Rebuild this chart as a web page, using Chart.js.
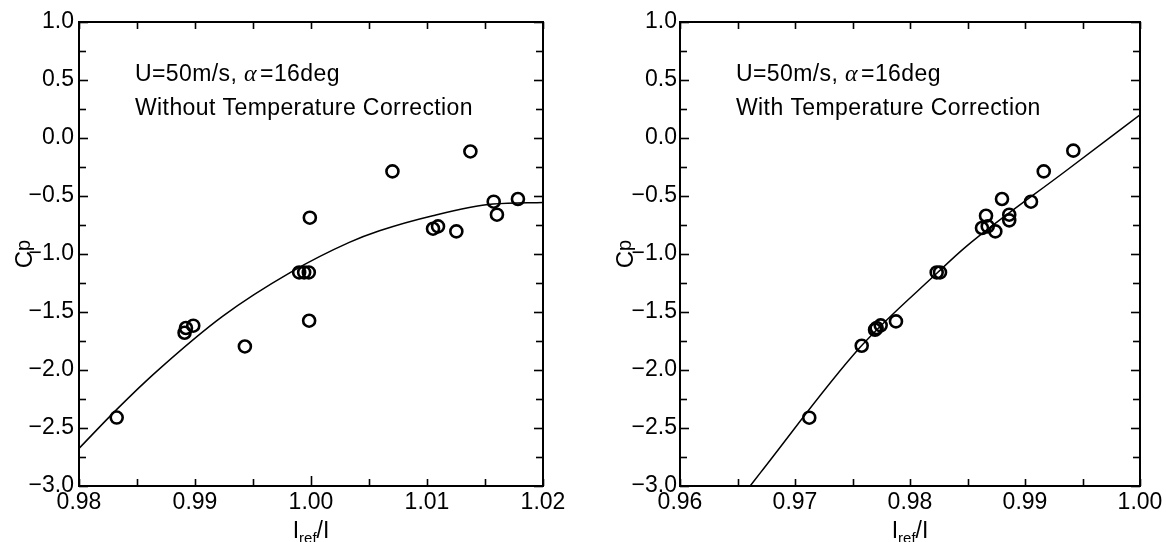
<!DOCTYPE html>
<html>
<head>
<meta charset="utf-8">
<script src="https://cdn.jsdelivr.net/npm/chart.js@4.4.0/dist/chart.umd.min.js"></script>
<style>
  html, body { margin: 0; padding: 0; background: #fff; }
  #wrap { position: relative; width: 1166px; height: 542px; }
  canvas { position: absolute; top: 0; }
</style>
</head>
<body>
<div id="wrap">
  <canvas id="left" width="583" height="542" style="left:0"></canvas>
  <canvas id="right" width="583" height="542" style="left:583px"></canvas>
</div>
<script>
// === Data ===
// left panel: without temperature correction
const leftX = [0.98325, 0.98922, 0.98985, 0.98910, 0.99430, 0.99898, 0.99941, 0.99981, 0.99984, 0.99990,
               1.00702, 1.01374, 1.01575, 1.01784, 1.01603, 1.01052, 1.01095, 1.01253];
const leftY = [-2.41, -1.638, -1.618, -1.679, -1.797, -1.159, -1.159, -1.159, -1.575, -0.687,
               -0.288, -0.116, -0.549, -0.526, -0.661, -0.782, -0.762, -0.805];
const leftFitX = [0.9800, 0.9833, 0.9866, 0.9924, 0.9982, 1.0033, 1.0059, 1.0105, 1.0157, 1.0200];
const leftFitY = [-2.676, -2.335, -2.02, -1.535, -1.16, -0.90, -0.80, -0.67, -0.57, -0.556];

// right panel: with temperature correction
const rightX = [0.97124, 0.97696, 0.97710, 0.97745, 0.97580, 0.97878, 0.98232, 0.98261, 0.98626,
                0.98676, 0.98742, 0.98661, 0.98863, 0.98863, 0.98800, 0.99052, 0.99163, 0.99420];
const rightY = [-2.411, -1.653, -1.638, -1.615, -1.791, -1.581, -1.159, -1.159, -0.776,
                -0.762, -0.805, -0.670, -0.661, -0.710, -0.526, -0.549, -0.288, -0.109];
const rightFitX = [0.9661, 0.9670, 0.9757, 0.9824, 0.9849, 0.9936, 1.0000];
const rightFitY = [-3.0, -2.885, -1.80, -1.16, -0.934, -0.28, 0.20];

const yTicksMin = -3, yTicksMax = 1, yStep = 0.5;

const FONT = '"Liberation Sans", Arial, sans-serif';

function pts(xs, ys) { return xs.map((x, i) => ({ x, y: ys[i] })); }

// frame, inward ticks, annotation and axis titles
const framePlugin = {
  id: 'frame',
  afterDraw(chart, args, opts) {
    const { ctx, chartArea: a } = chart;
    const xs = chart.scales.x, ys = chart.scales.y;
    ctx.save();
    ctx.strokeStyle = '#000';
    ctx.lineWidth = 2;
    ctx.strokeRect(a.left, a.top, a.right - a.left, a.bottom - a.top);

    ctx.lineWidth = 1.6;
    const line = (x1, y1, x2, y2) => { ctx.beginPath(); ctx.moveTo(x1, y1); ctx.lineTo(x2, y2); ctx.stroke(); };
    const xv = xs.ticks.map(t => t.value);
    const xall = [];
    xv.forEach((v, i) => { xall.push(v); if (i < xv.length - 1) xall.push((v + xv[i + 1]) / 2); });
    xall.forEach(v => {
      const px = Math.round(xs.getPixelForValue(v)) + 0.5;
      const len = (opts.longTick != null && Math.abs(v - opts.longTick) < 1e-9) ? 10 : 7;
      line(px, a.bottom, px, a.bottom - len);
      line(px, a.top, px, a.top + 7);
    });
    const yv = ys.ticks.map(t => t.value);
    yv.forEach((v, i) => {
      const py = Math.round(ys.getPixelForValue(v)) + 0.5;
      line(a.left, py, a.left + 9, py);
      line(a.right, py, a.right - 9, py);
      if (i < yv.length - 1) {
        const pm = Math.round(ys.getPixelForValue((v + yv[i + 1]) / 2)) + 0.5;
        line(a.left, pm, a.left + 7, pm);
        line(a.right, pm, a.right - 7, pm);
      }
    });

    // annotation text
    ctx.fillStyle = '#000';
    ctx.textBaseline = 'alphabetic';
    ctx.textAlign = 'left';
    ctx.letterSpacing = '0.4px';
    let tx = a.left + 56;
    ctx.font = '23px ' + FONT;
    ctx.fillText('U=50m/s, ', tx, 81);
    tx += ctx.measureText('U=50m/s, ').width;
    ctx.font = 'italic 24px "Liberation Serif", serif';
    ctx.fillText('\u03b1', tx, 81);
    tx += ctx.measureText('\u03b1').width + 3;
    ctx.font = '23px ' + FONT;
    ctx.fillText('=16deg', tx, 81);
    ctx.fillText(opts.note, a.left + 56, 114.5);
    ctx.letterSpacing = '0px';

    // y title "Cp"
    ctx.save();
    ctx.translate(a.left - 56, (a.top + a.bottom) / 2);
    ctx.rotate(-Math.PI / 2);
    ctx.font = '24px ' + FONT;
    const wC = ctx.measureText('C').width;
    ctx.font = '20px ' + FONT;
    const wp = ctx.measureText('p').width;
    let sx = -(wC + wp) / 2;
    ctx.font = '24px ' + FONT;
    ctx.fillText('C', sx, 9);
    ctx.font = '20px ' + FONT;
    ctx.fillText('p', sx + wC, 7);
    ctx.restore();

    // x title "I_ref/I"
    ctx.font = '23px ' + FONT;
    const wI = ctx.measureText('I').width;
    const wSl = ctx.measureText('/I').width;
    ctx.font = '15px ' + FONT;
    const wr = ctx.measureText('ref').width;
    let bx = (a.left + a.right) / 2 - (wI + wr + wSl) / 2;
    const by = 538;
    ctx.font = '23px ' + FONT;
    ctx.fillText('I', bx, by);
    ctx.font = '15px ' + FONT;
    ctx.fillText('ref', bx + wI, by + 5);
    ctx.font = '23px ' + FONT;
    ctx.fillText('/I', bx + wI + wr, by);
    ctx.restore();
  }
};

function makeChart(id, xs, ys, fx, fy, xmin, xmax, yAxisWidth, padRight, yPad, note, longTick) {
  return new Chart(document.getElementById(id), {
    type: 'scatter',
    data: {
      datasets: [
        {
          data: pts(xs, ys),
          pointStyle: 'circle',
          pointRadius: 6,
          pointBorderWidth: 2.6,
          pointBorderColor: '#000',
          pointBackgroundColor: 'rgba(0,0,0,0)'
        },
        {
          data: pts(fx, fy),
          showLine: true,
          borderColor: '#000',
          borderWidth: 1.5,
          pointRadius: 0,
          cubicInterpolationMode: 'monotone'
        }
      ]
    },
    options: {
      responsive: false,
      animation: false,
      layout: { padding: { top: 22, right: padRight, left: 0, bottom: 0 } },
      plugins: { legend: { display: false }, tooltip: { enabled: false }, frame: { note, longTick } },
      scales: {
        x: {
          type: 'linear', min: xmin, max: xmax,
          grid: { display: false, drawTicks: false },
          border: { display: false },
          ticks: {
            stepSize: 0.01, padding: 3, color: '#000', maxRotation: 0,
            font: { family: FONT, size: 23 },
            callback: v => v.toFixed(2)
          },
          afterFit(s) { s.height = 56; }
        },
        y: {
          type: 'linear', min: yTicksMin, max: yTicksMax,
          grid: { display: false, drawTicks: false },
          border: { display: false },
          ticks: {
            stepSize: yStep, padding: yPad, color: '#000',
            font: { family: FONT, size: 23 },
            callback: v => (v < 0 ? '\u2212' : '') + Math.abs(v).toFixed(1)
          },
          afterFit(s) { s.width = yAxisWidth; }
        }
      }
    },
    plugins: [framePlugin]
  });
}

makeChart('left', leftX, leftY, leftFitX, leftFitY, 0.98, 1.02, 79, 40, 5, 'Without Temperature Correction', 1.0);
makeChart('right', rightX, rightY, rightFitX, rightFitY, 0.96, 1.00, 97, 26, 3, 'With Temperature Correction', null);
</script>
</body>
</html>
